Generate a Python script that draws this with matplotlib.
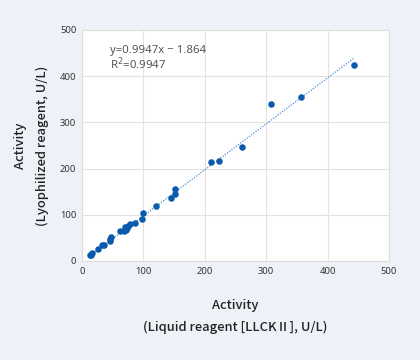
import matplotlib
matplotlib.use('Agg')
import matplotlib.pyplot as plt
import numpy as np

plt.rcParams['font.family'] = ['Noto Sans', 'DejaVu Sans']

# liquid reagent (x) vs lyophilized reagent (y), U/L
liquid = [443, 308, 357, 260, 210, 223, 151, 151, 145, 121, 100, 98, 87, 78,
          62, 68, 70, 74, 75, 72, 48, 45, 45, 36, 33, 26, 17, 15, 14]
lyoph = [424, 339, 355, 247, 214, 216, 156, 146, 137, 118, 103, 91, 83, 81,
         65, 65, 73, 71, 76, 67, 52, 48, 43, 35, 34, 27, 16.5, 14, 12]
slope = 0.9947
intercept = -1.864
r2 = 0.9947
ticks = [0, 100, 200, 300, 400, 500]

bg = '#eef2f8'
fig = plt.figure(figsize=(4.2, 3.6), dpi=100, facecolor=bg)
ax = fig.add_axes([0.195, 0.275, 0.731, 0.642])
ax.set_facecolor('white')

ax.grid(True, color='#e2e2e2', linewidth=0.8)
ax.set_axisbelow(True)

xl = np.array([min(liquid), max(liquid)])
ax.plot(xl, slope * xl + intercept, linestyle=(0, (1, 1.2)), color='#4f8fd0', linewidth=0.9, zorder=2)
ax.scatter(liquid, lyoph, s=22, color='#0a5aad', zorder=3, linewidths=0)

ax.text(45, 468, 'y=%.4fx − %.3f\nR$^2$=%.4f' % (slope, -intercept, r2),
        fontsize=8.2, color='#555555', va='top', ha='left', linespacing=0.95)

ax.set_xlim(0, 500)
ax.set_ylim(0, 500)
ax.set_xticks(ticks)
ax.set_yticks(ticks)
ax.tick_params(length=0, labelsize=6.8, colors='#333333', pad=4)
for s in ax.spines.values():
    s.set_color('#dddddd')
    s.set_linewidth(0.8)

lab_font = ['Noto Sans CJK JP', 'DejaVu Sans']
ax.set_xlabel('Activity\n(Liquid reagent [LLCKⅡ], U/L)', fontsize=9.3, color='#222222',
              family=lab_font, fontweight='medium', linespacing=1.85, labelpad=17)
ax.set_ylabel('Activity\n(Lyophilized reagent, U/L)', fontsize=9.3, color='#222222',
              family=lab_font, fontweight='medium', linespacing=1.85, labelpad=8)

fig.savefig('out.png', dpi=100, facecolor=bg)
